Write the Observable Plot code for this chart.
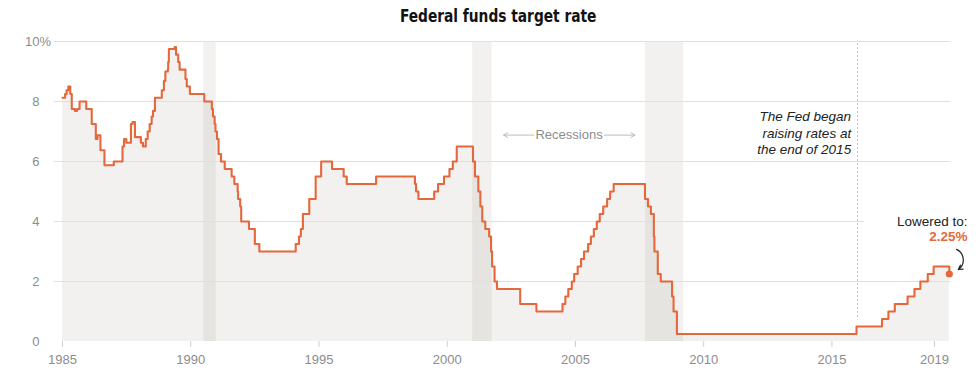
<!DOCTYPE html>
<html>
<head>
<meta charset="utf-8">
<script src="https://cdn.jsdelivr.net/npm/d3@7"></script>
<script src="https://cdn.jsdelivr.net/npm/@observablehq/plot@0.6"></script>
<style>
  html, body { margin: 0; padding: 0; background: #fff; }
  #title { width: 980px; height: 30px; line-height: 32px; text-align: center; box-sizing: border-box; padding-left: 16px;
    font-family: "Liberation Sans Narrow", "DejaVu Sans Condensed", "Liberation Sans", sans-serif; font-stretch: condensed;
    font-weight: bold; font-size: 17px; color: #121212; }
  #title span { display: inline-block; transform: scaleX(0.9); transform-origin: center; }
  #chart svg { display: block; }
</style>
</head>
<body>
<div id="title"><span>Federal funds target rate</span></div>
<div id="chart"></div>
<script>
// Target rate changes (upper bound after Dec 2008)
const dates = [
  "1985-01-01","1985-02-07","1985-02-28","1985-03-25","1985-04-22","1985-05-13","1985-06-28","1985-07-27","1985-09-01","1985-12-05",
  "1986-02-21","1986-04-20","1986-05-15","1986-06-25","1986-08-21",
  "1987-01-01","1987-05-05","1987-05-27","1987-06-28","1987-09-02","1987-09-24","1987-10-30",
  "1988-01-22","1988-02-20","1988-03-31","1988-04-27","1988-05-26","1988-06-23","1988-07-13","1988-08-09","1988-11-15","1988-12-15",
  "1989-01-05","1989-02-09","1989-02-14","1989-02-23","1989-02-24","1989-05-17","1989-06-06","1989-07-07","1989-07-27","1989-10-18","1989-11-06","1989-12-20",
  "1990-07-13","1990-10-29","1990-11-13","1990-12-07","1990-12-19",
  "1991-01-09","1991-02-01","1991-03-08","1991-04-30","1991-08-06","1991-09-13","1991-10-31","1991-11-06","1991-12-06","1991-12-20",
  "1992-04-09","1992-07-02","1992-09-04",
  "1994-02-04","1994-03-22","1994-04-18","1994-05-17","1994-08-16","1994-11-15",
  "1995-02-01","1995-07-06","1995-12-19","1996-01-31","1997-03-25",
  "1998-09-29","1998-10-15","1998-11-17","1999-06-30","1999-08-24","1999-11-16",
  "2000-02-02","2000-03-21","2000-05-16",
  "2001-01-03","2001-01-31","2001-03-20","2001-04-18","2001-05-15","2001-06-27","2001-08-21","2001-09-17","2001-10-02","2001-11-06","2001-12-11",
  "2002-11-06","2003-06-25",
  "2004-06-30","2004-08-10","2004-09-21","2004-11-10","2004-12-14",
  "2005-02-02","2005-03-22","2005-05-03","2005-06-30","2005-08-09","2005-09-20","2005-11-01","2005-12-13",
  "2006-01-31","2006-03-28","2006-05-10","2006-06-29",
  "2007-09-18","2007-10-31","2007-12-11",
  "2008-01-22","2008-01-30","2008-03-18","2008-04-30","2008-10-08","2008-10-29","2008-12-16",
  "2015-12-17","2016-12-15","2017-03-16","2017-06-15","2017-12-14",
  "2018-03-22","2018-06-14","2018-09-27","2018-12-20","2019-07-31"
];
const rates = [
  8.125,8.25,8.375,8.5,8.25,7.75,7.6875,7.75,8.0,7.75,
  7.25,6.75,6.875,6.375,5.875,
  6.0,6.5,6.75,6.625,7.25,7.3125,6.8125,
  6.625,6.5,6.75,7.0,7.25,7.5,7.6875,8.125,8.375,8.6875,
  9.0,9.0625,9.3125,9.5625,9.75,9.8125,9.5625,9.3125,9.0625,8.75,8.5,8.25,
  8.0,7.75,7.5,7.25,7.0,
  6.75,6.25,6.0,5.75,5.5,5.25,5.0,4.75,4.5,4.0,
  3.75,3.25,3.0,
  3.25,3.5,3.75,4.25,4.75,5.5,
  6.0,5.75,5.5,5.25,5.5,
  5.25,5.0,4.75,5.0,5.25,5.5,
  5.75,6.0,6.5,
  6.0,5.5,5.0,4.5,4.0,3.75,3.5,3.0,2.5,2.0,1.75,
  1.25,1.0,
  1.25,1.5,1.75,2.0,2.25,
  2.5,2.75,3.0,3.25,3.5,3.75,4.0,4.25,
  4.5,4.75,5.0,5.25,
  4.75,4.5,4.25,
  3.5,3.0,2.25,2.0,1.5,1.0,0.25,
  0.5,0.75,1.0,1.25,1.5,
  1.75,2.0,2.25,2.5,2.25
];
const recessionStart = [1990.51, 2000.99, 2007.73];
const recessionEnd   = [1990.99, 2001.75, 2009.22];
const xTicks = [1985, 1990, 1995, 2000, 2005, 2010, 2015, 2019];
const yTicks = [0, 2, 4, 6, 8, 10];
const latestRate = 2.25;

function yr(s) {
  const d = new Date(s + "T00:00:00Z");
  const y = d.getUTCFullYear();
  const a = Date.UTC(y, 0, 1), b = Date.UTC(y + 1, 0, 1);
  return y + (d - a) / (b - a);
}
const series = dates.map((d, i) => ({x: yr(d), y: rates[i]}));
const recessions = recessionStart.map((s, i) => ({x1: s, x2: recessionEnd[i]}));
const last = series[series.length - 1];

const ORANGE = "#e5683c";
const FONT = "Liberation Sans, Arial, sans-serif";
const tint = "rgb(110,100,80)";

const plot = Plot.plot({
  width: 980, height: 345,
  marginLeft: 54, marginRight: 30, marginTop: 11, marginBottom: 34,
  style: {fontFamily: FONT, fontSize: "13px", overflow: "visible"},
  x: {domain: [1984.688, 2019.624], axis: null},
  y: {domain: [0, 10], axis: null},
  marks: [
    Plot.rectY(recessions, {x1: "x1", x2: "x2", y1: 0, y2: 10, fill: tint, fillOpacity: 0.09}),
    Plot.areaY(series, {x: "x", y: "y", curve: "step-after", fill: tint, fillOpacity: 0.09}),
    Plot.ruleY(yTicks.filter(d => d > 0 && d !== 4), {y: d => d, x1: 1984.688, x2: 2019.624, stroke: "#e0e0e0", strokeWidth: 1}),
    Plot.ruleY([4], {y: d => d, x1: 1984.688, x2: 2016.27, stroke: "#e0e0e0", strokeWidth: 1}),
    Plot.ruleX([2016.0], {y1: 0.8, y2: 10, stroke: "#c4c4c4", strokeWidth: 1, strokeDasharray: "2,2"}),
    Plot.lineY(series, {x: "x", y: "y", curve: "step-after", stroke: ORANGE, strokeWidth: 2.1}),
    Plot.dot([last], {x: "x", y: d => latestRate, r: 3.6, fill: ORANGE, stroke: "none"}),
    // axes
    Plot.axisX({ticks: xTicks, tickFormat: d => String(d), tickSize: 6, tickPadding: 7, stroke: "#cfcfcf", fill: "#8c8c8c", fontSize: 13}),
    Plot.text(yTicks, {x: 1984.688, y: d => d, text: d => String(d), textAnchor: "end", dx: -15, fill: "#8c8c8c", fontSize: 13}),
    Plot.text([10], {x: 1984.688, y: d => d, text: d => "%", textAnchor: "start", dx: -15, fill: "#8c8c8c", fontSize: 13}),
    // Recessions label
    Plot.text(["Recessions"], {x: 2004.75, y: 6.88, text: d => d, fill: "#8c8c8c", fontSize: 13}),
    Plot.arrow([0], {x1: 2003.38, y1: 6.88, x2: 2002.2, y2: 6.88, stroke: "#bdbdbd", strokeWidth: 1, headLength: 7}),
    Plot.arrow([0], {x1: 2006.12, y1: 6.88, x2: 2007.32, y2: 6.88, stroke: "#bdbdbd", strokeWidth: 1, headLength: 7}),
    // Fed annotation
    Plot.text(["The Fed began\nraising rates at\nthe end of 2015"], {x: 2015.75, y: 6.98, text: d => d, textAnchor: "end", lineAnchor: "middle", lineHeight: 1.25, fontStyle: "italic", fill: "#222", fontSize: 13.5}),
    // Latest
    Plot.text(["Lowered to:"], {x: 2020.29, y: 4.01, text: d => d, textAnchor: "end", fill: "#222", fontSize: 13.5}),
    Plot.text([latestRate], {x: 2020.29, y: 3.5, text: d => d.toFixed(2) + "%", textAnchor: "end", fill: ORANGE, fontWeight: "bold", fontSize: 13.5}),
    Plot.arrow([0], {x1: 2019.86, y1: 3.07, x2: 2019.93, y2: 2.4, bend: 60, stroke: "#222", strokeWidth: 1.2, headLength: 6})
  ]
});
document.getElementById("chart").appendChild(plot);
</script>
</body>
</html>
